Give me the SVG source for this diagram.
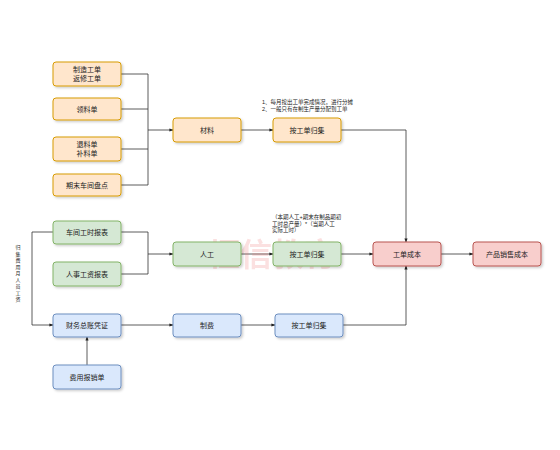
<svg xmlns="http://www.w3.org/2000/svg" width="560" height="450" viewBox="0 0 560 450">
<defs>
<marker id="arr" viewBox="0 0 10 10" refX="9" refY="5" markerWidth="5" markerHeight="5" orient="auto"><path d="M0,1 L10,5 L0,9 z" fill="#222"/></marker>
<filter id="sh" x="-10%" y="-10%" width="130%" height="140%"><feDropShadow dx="1.5" dy="1.5" stdDeviation="0.8" flood-color="#000" flood-opacity="0.2"/></filter>
<style>
.b{stroke-width:1;filter:url(#sh)}
.o{fill:#ffe6cc;stroke:#d79b00}
.g{fill:#d5e8d4;stroke:#82b366}
.u{fill:#dae8fc;stroke:#6c8ebf}
.r{fill:#f8cecc;stroke:#b85450}
.t{font-family:"Liberation Sans","Noto Sans CJK SC",sans-serif;font-size:7px;fill:#222;text-anchor:middle}
.n{font-family:"Liberation Sans","Noto Sans CJK SC",sans-serif;font-size:5.5px;fill:#222}
.v{font-family:"Noto Sans CJK SC",sans-serif;font-size:5px;fill:#222;text-anchor:middle}
.c{fill:none;stroke:#333;stroke-width:0.8}
.w{font-family:"Noto Sans CJK SC",sans-serif;font-size:32px;fill:#e77;opacity:0.22;font-weight:bold}
</style>
</defs>
<rect width="560" height="450" fill="#fff"/>
<g id="connectors">
<path class="c" d="M121,74 H148 M121,109 H148 M121,149 H148 M121,185 H148 M148,74 V185"/>
<path class="c" d="M148,130 H173" marker-end="url(#arr)"/>
<path class="c" d="M241,130 H273" marker-end="url(#arr)"/>
<path class="c" d="M341,130 H406 V242" marker-end="url(#arr)"/>
<path class="c" d="M121,232 H148 M121,274 H148 M148,232 V274"/>
<path class="c" d="M148,254 H173" marker-end="url(#arr)"/>
<path class="c" d="M241,254 H273" marker-end="url(#arr)"/>
<path class="c" d="M341,254 H373" marker-end="url(#arr)"/>
<path class="c" d="M441,254 H473" marker-end="url(#arr)"/>
<path class="c" d="M53,232 H32 V325 H53" marker-end="url(#arr)"/>
<path class="c" d="M121,325 H173" marker-end="url(#arr)"/>
<path class="c" d="M241,325 H275" marker-end="url(#arr)"/>
<path class="c" d="M343,325 H406 V266" marker-end="url(#arr)"/>
<path class="c" d="M87,365 V337" marker-end="url(#arr)"/>
</g>
<text class="w" x="208" y="266">恒信教育</text>
<g id="n1"><rect class="b o" x="53" y="62" width="68" height="24" rx="3"/><text class="t" x="87" y="72">制造工单</text><text class="t" x="87" y="81">返修工单</text></g>
<g id="n2"><rect class="b o" x="53" y="98" width="68" height="22" rx="3"/><text class="t" x="87" y="111.5">领料单</text></g>
<g id="n3"><rect class="b o" x="53" y="137" width="68" height="24" rx="3"/><text class="t" x="87" y="147">退料单</text><text class="t" x="87" y="156">补料单</text></g>
<g id="n4"><rect class="b o" x="53" y="174" width="68" height="22" rx="3"/><text class="t" x="87" y="187.5">期末车间盘点</text></g>
<g id="n5"><rect class="b o" x="173" y="118" width="68" height="24" rx="3"/><text class="t" x="207" y="132.5">材料</text></g>
<g id="n6"><rect class="b o" x="273" y="118" width="68" height="24" rx="3"/><text class="t" x="307" y="132.5">按工单归集</text></g>
<g id="note1"><text class="n" x="262" y="104">1、每月按出工单完成情况，进行分摊</text><text class="n" x="262" y="111">2、一般只有在制生产量分配到工单</text></g>
<g id="n7"><rect class="b g" x="53" y="221" width="68" height="23" rx="3"/><text class="t" x="87" y="235">车间工时报表</text></g>
<g id="n8"><rect class="b g" x="53" y="262" width="68" height="24" rx="3"/><text class="t" x="87" y="276.5">人事工资报表</text></g>
<g id="n9"><rect class="b g" x="173" y="242" width="68" height="24" rx="3"/><text class="t" x="207" y="256.5">人工</text></g>
<g id="n10"><rect class="b g" x="273" y="242" width="68" height="24" rx="3"/><text class="t" x="307" y="256.5">按工单归集</text></g>
<g id="note2"><text class="n" x="272" y="219">（本期人工+期末在制品期初</text><text class="n" x="272" y="225.5">工时总产量）*（当期人工</text><text class="n" x="272" y="232">实际工时）</text></g>
<g id="vlabel"><text class="v" x="18" y="249">归</text><text class="v" x="18" y="255.5">集</text><text class="v" x="18" y="262">费</text><text class="v" x="18" y="268.5">用</text><text class="v" x="18" y="275">月</text><text class="v" x="18" y="281.5">人</text><text class="v" x="18" y="288">员</text><text class="v" x="18" y="294.5">工</text><text class="v" x="18" y="301">资</text></g>
<g id="n11"><rect class="b r" x="373" y="242" width="68" height="24" rx="3"/><text class="t" x="407" y="256.5">工单成本</text></g>
<g id="n12"><rect class="b r" x="473" y="242" width="68" height="24" rx="3"/><text class="t" x="507" y="256.5">产品销售成本</text></g>
<g id="n13"><rect class="b u" x="53" y="314" width="68" height="23" rx="3"/><text class="t" x="87" y="328">财务总账凭证</text></g>
<g id="n14"><rect class="b u" x="173" y="314" width="68" height="23" rx="3"/><text class="t" x="207" y="328">制费</text></g>
<g id="n15"><rect class="b u" x="275" y="314" width="68" height="23" rx="3"/><text class="t" x="309" y="328">按工单归集</text></g>
<g id="n16"><rect class="b u" x="53" y="365" width="68" height="24" rx="3"/><text class="t" x="87" y="379.5">费用报销单</text></g>
</svg>
